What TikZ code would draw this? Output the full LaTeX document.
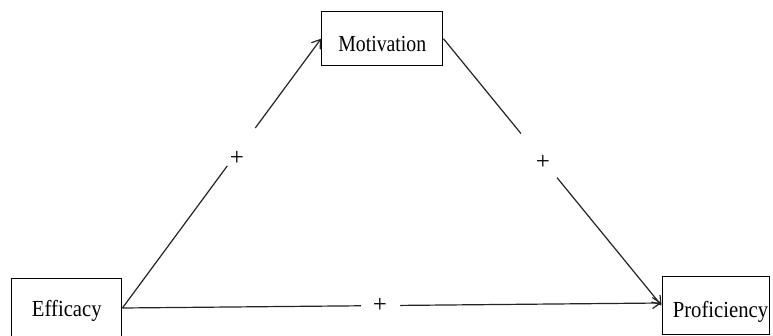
\documentclass[tikz,border=0pt]{standalone}
\usepackage{fontspec}
\setmainfont{Liberation Serif}
\usetikzlibrary{arrows.meta}
\definecolor{linegray}{RGB}{35,35,35}
\newcommand{\boxtext}[4]{\makebox[0pt]{\hspace*{#1}\raisebox{#2}[0pt][0pt]{\scalebox{#3}[1]{#4}}}}
\begin{document}
\begin{tikzpicture}[x=1pt,y=-1pt, font=\fontsize{23}{27}\selectfont,
  box/.style={draw=black, line width=1pt, inner sep=0pt},
  conn/.style={line width=1.2pt, draw=linegray},
  arr/.style={conn, -{Straight Barb[length=8pt,width=11pt]}},
  gap/.style={circle, fill=white, draw=none, inner sep=0pt},
  sign/.style={inner sep=0pt, font=\fontsize{25}{28}\selectfont}]
\clip (0,0) rectangle (773,336);
\node[box, minimum width=121.3pt, minimum height=54pt] (mot) at (382.3,38.7) {\boxtext{0pt}{-13.3pt}{0.86}{Motivation}};
\node[box, minimum width=110.3pt, minimum height=58pt] (eff) at (66.8,308) {\boxtext{0pt}{-9pt}{0.9}{Efficacy}};
\node[box, minimum width=107pt, minimum height=57pt] (prof) at (715.5,305.5) {\boxtext{10pt}{-12.5pt}{0.9}{Proficiency}};
\draw[arr] (eff.east) -- node[gap, minimum size=47pt, pos=0.598] (g1) {} (mot.west);
\draw[arr] (mot.east) -- node[gap, minimum size=57pt, pos=0.438] (g2) {} (prof.west);
\draw[arr] (eff.east) -- node[gap, minimum size=39pt, pos=0.479] (g3) {} ([yshift=2.5pt]prof.west);
\node[sign] (p1) at (237,158) {+};
\node[sign] (p2) at (543,162) {+};
\node[sign] (p3) at (380,305) {+};
\end{tikzpicture}
\end{document}
